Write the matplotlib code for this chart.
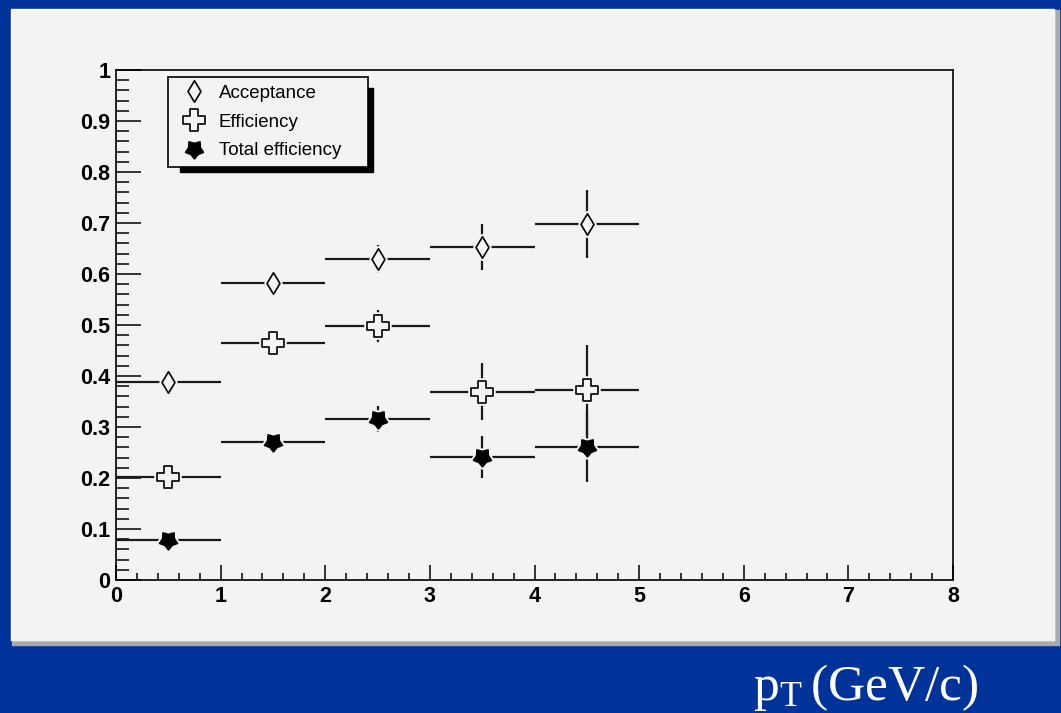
import numpy as np
import matplotlib
matplotlib.use("Agg")
import matplotlib.pyplot as plt
from matplotlib.patches import Rectangle
from matplotlib.path import Path

plt.rcParams['font.family'] = ['Liberation Sans', 'DejaVu Sans']
plt.rcParams['mathtext.fontset'] = 'custom'
plt.rcParams['mathtext.rm'] = 'Liberation Serif'

# data
pt_bins = [0.5, 1.5, 2.5, 3.5, 4.5]
pt_halfwidth = [0.5, 0.5, 0.5, 0.5, 0.5]

acceptance = [0.388, 0.582, 0.629, 0.653, 0.698]
acceptance_err = [0.01, 0.01, 0.027, 0.045, 0.067]

efficiency = [0.202, 0.465, 0.498, 0.369, 0.373]
efficiency_err = [0.01, 0.01, 0.032, 0.056, 0.088]

total_eff = [0.078, 0.271, 0.316, 0.241, 0.261]
total_eff_err = [0.005, 0.01, 0.025, 0.041, 0.069]

labels = ['Acceptance', 'Efficiency', 'Total efficiency']

x_ticks = [0, 1, 2, 3, 4, 5, 6, 7, 8]
x_tick_labels = ['0', '1', '2', '3', '4', '5', '6', '7', '8']
y_ticks = [0, 0.1, 0.2, 0.3, 0.4, 0.5, 0.6, 0.7, 0.8, 0.9, 1.0]
y_tick_labels = ['0', '0.1', '0.2', '0.3', '0.4', '0.5', '0.6', '0.7', '0.8', '0.9', '1']

BLUE = '#003399'
PANEL = '#f3f3f3'
INK = '#1a1a1a'

# ROOT-like marker shapes
diamond = Path([(0, 1), (0.6, 0), (0, -1), (-0.6, 0), (0, 1)],
               [Path.MOVETO, Path.LINETO, Path.LINETO, Path.LINETO, Path.CLOSEPOLY])
a = 0.36
cross_pts = [(-a, 1), (a, 1), (a, a), (1, a), (1, -a), (a, -a), (a, -1),
             (-a, -1), (-a, -a), (-1, -a), (-1, a), (-a, a), (-a, 1)]
cross = Path(cross_pts, [Path.MOVETO] + [Path.LINETO] * 11 + [Path.CLOSEPOLY])
ang = np.deg2rad(-90 + 36 * np.arange(10))
rad = np.where(np.arange(10) % 2 == 0, 1.0, 0.65)
star_pts = list(zip(rad * np.cos(ang), rad * np.sin(ang))) + [(0, -1)]
star = Path(star_pts, [Path.MOVETO] + [Path.LINETO] * 9 + [Path.CLOSEPOLY])

W, H = 1061, 713
fig = plt.figure(figsize=(W / 100, H / 100), dpi=100)
fig.patch.set_facecolor(BLUE)

# light canvas with grey shadow and white bevel
fig.add_artist(Rectangle((12 / W, 1 - 645 / H), 1047 / W, 635 / H,
                         transform=fig.transFigure, color='#a9a9a9', zorder=-4))
fig.add_artist(Rectangle((11 / W, 1 - 640 / H), 1043 / W, 631 / H,
                         transform=fig.transFigure, color='white', zorder=-3))
fig.add_artist(Rectangle((13 / W, 1 - 640 / H), 1041 / W, 629 / H,
                         transform=fig.transFigure, color=PANEL, zorder=-2))

ax = fig.add_axes([116 / W, 1 - 580 / H, 837 / W, 510 / H])
ax.set_facecolor(PANEL)

series = [
    (acceptance, acceptance_err, diamond, 15.5, 'none'),
    (efficiency, efficiency_err, cross, 16.5, 'none'),
    (total_eff, total_eff_err, star, 13.5, 'black'),
]

handles = []
for (vals, errs, mk, ms, fc), lab in zip(series, labels):
    ax.errorbar(pt_bins, vals, xerr=pt_halfwidth, yerr=errs, fmt='none',
                ecolor=INK, elinewidth=1.6, capsize=0, zorder=2)
    # background coloured copy makes the ROOT style gap around the marker
    ax.plot(pt_bins, vals, ls='none', marker=mk, ms=ms, mfc=PANEL, mec=PANEL,
            mew=4, zorder=3)
    h, = ax.plot(pt_bins, vals, ls='none', marker=mk, ms=ms,
                 mfc=PANEL if fc == 'none' else fc, mec='black', mew=1.2,
                 zorder=4, label=lab)
    handles.append(h)

ax.set_xlim(0, 8)
ax.set_ylim(0, 1)
ax.set_xticks(x_ticks, labels=x_tick_labels, fontsize=15.5, fontweight='bold')
ax.set_yticks(y_ticks, labels=y_tick_labels, fontsize=15.5, fontweight='bold')
ax.set_xticks(np.arange(0, 8.01, 0.2), minor=True)
ax.set_yticks(np.arange(0, 1.001, 0.02), minor=True)
ax.tick_params(axis='x', which='major', direction='in', length=11, width=1.1, pad=4)
ax.tick_params(axis='x', which='minor', direction='in', length=5, width=1.1)
ax.tick_params(axis='y', which='major', direction='in', length=18, width=1.1, pad=4)
ax.tick_params(axis='y', which='minor', direction='in', length=9.5, width=1.1)
for sp in ax.spines.values():
    sp.set_linewidth(1.2)

# legend with an offset black shadow
ax.add_patch(Rectangle((0.0765, 0.800), 0.2305, 0.165, transform=ax.transAxes,
                       color='black', zorder=5))
leg = ax.legend(handles, labels, loc='upper left',
                bbox_to_anchor=(0.0621, 0.814, 0.239, 0.172), mode='expand',
                borderaxespad=0, fontsize=13.5, fancybox=False, framealpha=1,
                facecolor=PANEL, edgecolor='black', handlelength=2.0,
                handletextpad=0.3, borderpad=0.4, labelspacing=0.62)
leg.get_frame().set_linewidth(1.2)
leg.set_zorder(6)

fig.text(753 / W, 1 - 700 / H, r'$\mathrm{p_{T}\,(GeV/c)}$', color='white',
         fontsize=37, va='baseline', ha='left')

fig.savefig('out.png', dpi=100, facecolor=BLUE)
